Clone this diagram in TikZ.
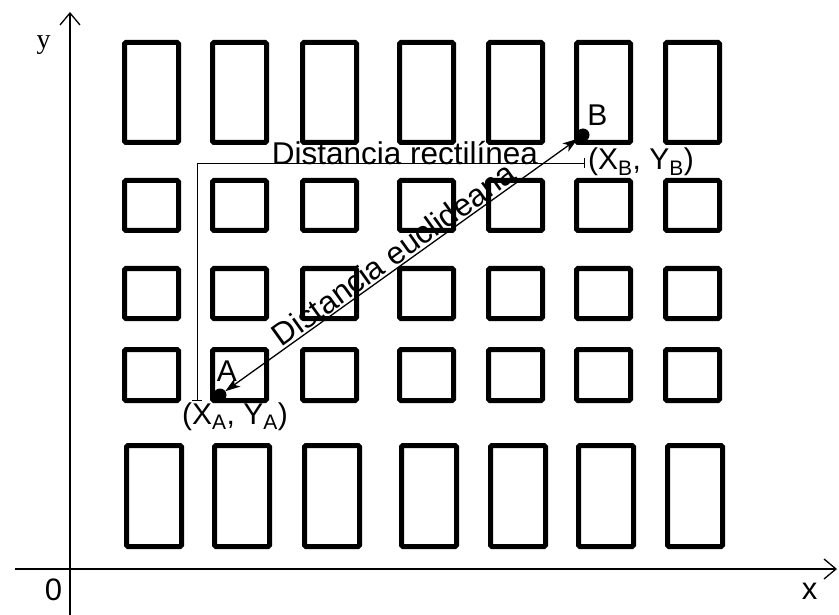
\documentclass[tikz,border=0pt]{standalone}
\usepackage{fontspec}
\setmainfont{Liberation Sans}
\newfontfamily\serifm{Liberation Serif}
\usetikzlibrary{arrows.meta}
\begin{document}
\begin{tikzpicture}[x=1pt,y=-1pt,
  blk/.style={draw, line width=5pt, rounded corners=1.5pt, inner sep=0pt, outer sep=0pt, minimum width=54pt, anchor=north west},
  axis/.style={line width=1.3pt, -{Straight Barb[length=12pt,width=20pt]}},
  ptdot/.style={circle, fill, inner sep=0pt, outer sep=0pt, minimum size=13pt},
  lbl/.style={font=\fontsize{30}{34}\selectfont, inner sep=0pt, anchor=base},
  axlbl/.style={font=\fontsize{31}{34}\selectfont, inner sep=0pt, anchor=base},
  dist/.style={font=\fontsize{31.5}{36}\selectfont, inner sep=0pt},
  rect/.style={line width=0.9pt, {Bar[width=10pt]}-{Bar[width=10pt]}},
  eucl/.style={line width=1.3pt, {Stealth[length=15pt,width=10pt,inset=4pt]}-{Stealth[length=15pt,width=10pt,inset=4pt]}},
]
\useasboundingbox (0,0) rectangle (839,615);
% axes
\coordinate (yb) at (70,615);
\coordinate (yt) at (70,12);
\coordinate (xl) at (15,569);
\coordinate (xr) at (837,569);
\draw[axis] (yb) -- (yt);
\draw[axis] (xl) -- (xr);
\node[lbl, font=\fontsize{28}{30}\serifm] (ylab) at (43.5,49) {y};
\node[axlbl] (zero) at (53.5,600) {0};
\node[axlbl] (xlab) at (809.5,599) {x};
% blocks
\foreach \x [count=\i] in {124.5,212.5,302.5,399.5,488.5,576.5,665.5} {
  \node[blk, minimum height=100pt] (t\i) at (\x,42.5) {};
  \node[blk, minimum height=50pt] (s\i) at (\x,180.5) {};
  \node[blk, minimum height=50pt] (m\i) at (\x,268.5) {};
  \node[blk, minimum height=51pt] (n\i) at (\x,349.5) {};
  \node[blk, minimum height=101pt, minimum width=55pt] (b\i) at (\x+2,445.5) {};
}
% points
\node[ptdot] (A) at (220,395) {};
\node[ptdot] (B) at (583,135) {};
\node[lbl] (la) at (227,381) {A};
\node[lbl] (lb) at (597.5,126) {B};
\node[lbl] (ca) at (235,424) {(X\textsubscript{A}, Y\textsubscript{A})};
\node[lbl, anchor=base west] (cb) at (588,170) {(X\textsubscript{B}, Y\textsubscript{B})};
% rectilinear distance
\coordinate (RA) at (197,401);
\coordinate (RB) at (585,163);
\draw[rect] (RA) |- (RB);
\node[dist, anchor=base] (rl) at (405,165) {Distancia rectilínea};
% euclidean distance
\draw[eucl] (A) -- node[dist, sloped, above=1.5pt] (el) {Distancia euclideana} (B);
\end{tikzpicture}
\end{document}
